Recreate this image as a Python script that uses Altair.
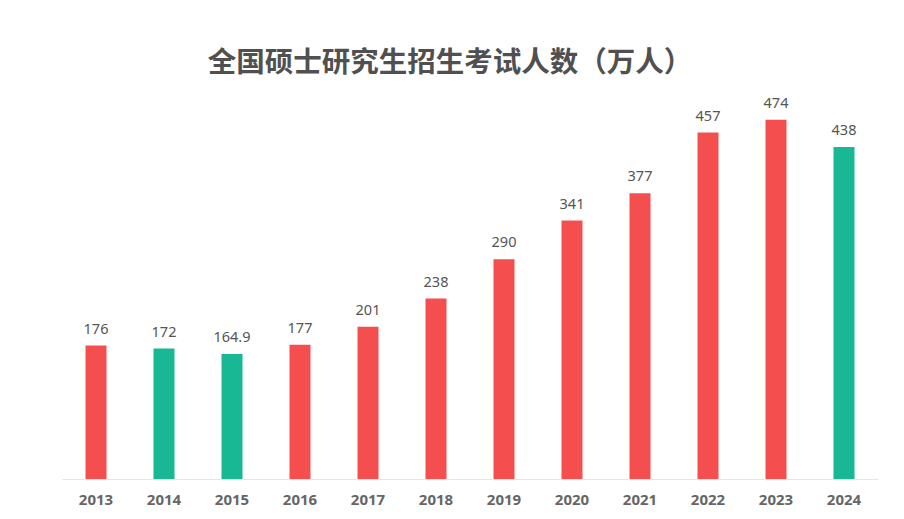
import altair as alt
import pandas as pd

years = ["2013", "2014", "2015", "2016", "2017", "2018", "2019", "2020", "2021", "2022", "2023", "2024"]
values = [176, 172, 164.9, 177, 201, 238, 290, 341, 377, 457, 474, 438]
labels = ["176", "172", "164.9", "177", "201", "238", "290", "341", "377", "457", "474", "438"]
trend = ["up", "down", "down", "up", "up", "up", "up", "up", "up", "up", "up", "down"]

df = pd.DataFrame({"year": years, "value": values, "label": labels, "trend": trend})

x = alt.X("year:N", sort=years, title=None,
          scale=alt.Scale(paddingInner=0.69, paddingOuter=0.345),
          axis=alt.Axis(labelAngle=0, ticks=False, domainColor="#e6e6e6", domainWidth=1,
                        labelColor="#666666", labelFontSize=15, labelFontWeight="bold",
                        labelFont="Noto Sans", labelPadding=13))
y = alt.Y("value:Q", scale=alt.Scale(domain=[0, 500], nice=False), axis=None)

bars = alt.Chart(df).mark_bar(size=21).encode(
    x=x, y=y,
    color=alt.Color("trend:N", scale=alt.Scale(domain=["up", "down"], range=["#F44F4E", "#17B893"]), legend=None),
)

text = alt.Chart(df).mark_text(baseline="bottom", dy=-9, fontSize=14.5, color="#555555", font="Noto Sans").encode(
    x=alt.X("year:N", sort=years), y="value:Q", text="label:N"
)

chart = (bars + text).properties(
    width=816, height=379,
    autosize=alt.AutoSizeParams(type="none"),
    padding={"left": 62, "top": 100, "right": 26, "bottom": 40},
    title=alt.TitleParams("全国硕士研究生招生考试人数（万人）", font="Noto Sans CJK SC", fontSize=28.5,
                          fontWeight="bold", color="#505050", anchor="middle", dx=-20, offset=18),
).configure(background="white").configure_view(stroke="transparent", strokeWidth=0)

chart.save("out.html", embed_options={"renderer": "svg", "actions": False})
